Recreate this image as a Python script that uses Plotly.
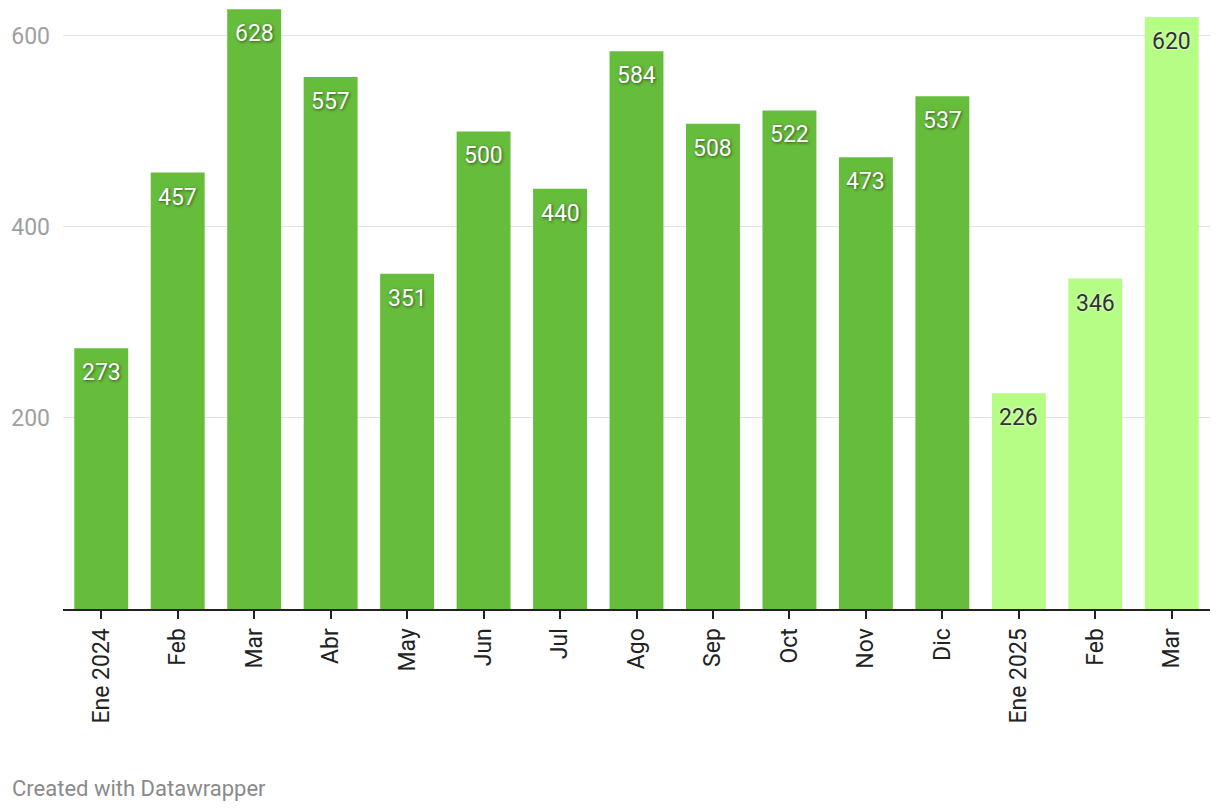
import plotly.graph_objects as go

labels = ["Ene 2024", "Feb", "Mar", "Abr", "May", "Jun", "Jul", "Ago", "Sep", "Oct", "Nov", "Dic", "Ene 2025", "Feb", "Mar"]
values = [273, 457, 628, 557, 351, 500, 440, 584, 508, 522, 473, 537, 226, 346, 620]
is_2025 = [False] * 12 + [True] * 3
y_ticks = [200, 400, 600]

DARK = "#66bc3b"
LIGHT = "#b6fd86"

x = list(range(len(labels)))
colors = [LIGHT if f else DARK for f in is_2025]

fig = go.Figure()
fig.add_trace(go.Bar(
    x=x, y=values, marker=dict(color=colors, line=dict(width=0)),
    hoverinfo="skip", width=0.705,
))

for xi, v, f in zip(x, values, is_2025):
    fig.add_annotation(
        x=xi, y=v, xref="x", yref="y", text=str(v), showarrow=False,
        yanchor="top", yshift=-9,
        font=dict(family="Roboto", size=23,
                  color="#333333" if f else "#ffffff",
                  shadow="0px 0px 3px rgba(255,255,255,0.9)" if f else "1px 1px 3px rgba(0,0,0,0.55)"),
    )

fig.add_annotation(
    text="Created with Datawrapper", xref="paper", yref="paper",
    x=0, y=0, xanchor="left", yanchor="middle", xshift=-53, yshift=-179,
    showarrow=False, font=dict(family="Roboto", size=22, color="#8a8a8a"),
)

fig.update_layout(
    width=1204, height=796,
    margin=dict(l=55, r=2, t=0, b=195),
    paper_bgcolor="white", plot_bgcolor="white",
    showlegend=False,
    font=dict(family="Roboto"),
    xaxis=dict(
        range=[-0.5, 14.5], tickvals=x, ticktext=labels, tickangle=-90,
        showgrid=False, zeroline=False, showline=True, linecolor="#222222", linewidth=2,
        ticks="outside", ticklen=8, tickwidth=2, tickcolor="#222222",
        tickfont=dict(family="Roboto", size=23, color="#222222"),
    ),
    yaxis=dict(
        range=[0, 629.3], tickvals=y_ticks, ticktext=[str(t) for t in y_ticks],
        showgrid=True, gridcolor="#e3e3e3", gridwidth=1, zeroline=False,
        showline=False, ticks="", ticklabelstandoff=12,
        tickfont=dict(family="Roboto", size=23, color="#a0a0a0"),
    ),
)

fig.write_html("out.html")
